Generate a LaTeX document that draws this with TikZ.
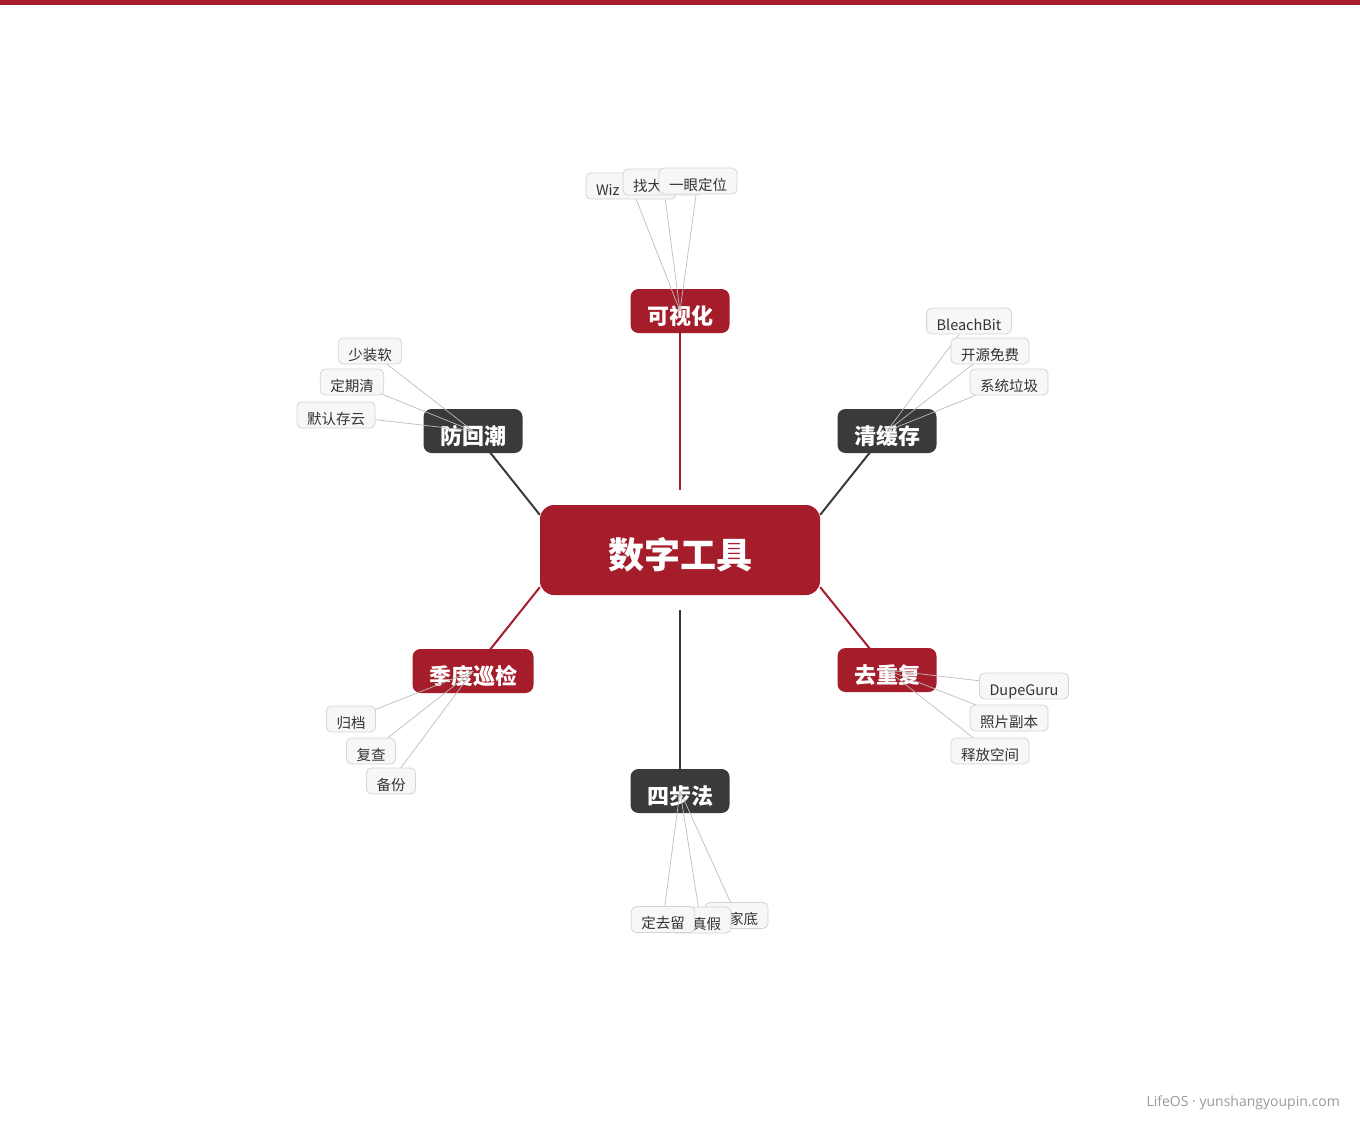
\documentclass[tikz,border=0pt]{standalone}
\usepackage{fontspec}
\setmainfont{Noto Sans CJK SC}
\newfontfamily\piedfont{Open Sans}
\usetikzlibrary{positioning}
\definecolor{rouge}{HTML}{A51C2B}
\definecolor{noir}{HTML}{3A3A3A}
\definecolor{fondfeuille}{HTML}{F7F7F7}
\definecolor{bordfeuille}{HTML}{D4D4D4}
\definecolor{lienfeuille}{HTML}{BDBDBD}
\definecolor{textefeuille}{HTML}{333333}
\pgfdeclarelayer{fond}
\pgfdeclarelayer{milieu}
\pgfdeclarelayer{liens}
\pgfsetlayers{fond,milieu,liens,main}
\tikzset{
  mmnode/.style = {align=center, text centered, text=white},
  mm_centre/.style = {mmnode, fill=rouge, rounded corners=14pt,
    minimum width=280pt, minimum height=90pt, text height=41pt, text depth=4pt,
    font=\fontsize{36}{36}\selectfont\bfseries},% noeud central
  mm_r/.style = {mmnode, fill=rouge, rounded corners=8pt, inner xsep=16.5pt,
    inner ysep=0pt, minimum height=44pt, text height=29.5pt, text depth=3pt,
    font=\fontsize{22}{22}\selectfont\bfseries},% branche rouge
  mm_n/.style = {mm_r, fill=noir},% branche noire
  feuille/.style = {draw=bordfeuille, fill=fondfeuille, rounded corners=5pt,
    line width=0.8pt, inner xsep=10pt, inner ysep=0pt, minimum height=26pt,
    text height=20.5pt, text depth=2pt,
    text=textefeuille, font=\fontsize{14.5}{15}\selectfont},
  lien_r/.style = {draw=rouge, line width=2pt},
  lien_n/.style = {draw=noir, line width=2pt},
  lien_f/.style = {draw=lienfeuille, line width=0.7pt}
}
\begin{document}
\begin{tikzpicture}[x=1pt, y=-1pt]
\useasboundingbox (0,0) rectangle (1360,1120);
\fill[rouge] (0,0) rectangle (1360,4.5);
% centre et branches
\begin{pgfonlayer}{milieu}
\node (root) [mm_centre] at (680,550) {数字工具};
\node (kshh) [mm_r] at (680,311) {可视化};
\node (qhc)  [mm_n] at (887,431) {清缓存};
\node (fhc)  [mm_n] at (473,431) {防回潮};
\node (jdxj) [mm_r] at (473,671) {季度巡检};
\node (qcf)  [mm_r] at (887,670) {去重复};
\node (sbf)  [mm_n] at (680,791) {四步法};
\end{pgfonlayer}
% feuilles
\node (v1) [feuille, text width=70pt, align=left] at (631,186) {Wiz};
\node (v2) [feuille, text width=60pt, align=left] at (663,182) {找大};
\node (v3) [feuille] at (698,181) {一眼定位};
\node (q1) [feuille] at (969,321) {BleachBit};
\node (q2) [feuille] at (990,351) {开源免费};
\node (q3) [feuille] at (1009,382) {系统垃圾};
\node (f1) [feuille] at (370,351) {少装软};
\node (f2) [feuille] at (352,382) {定期清};
\node (f3) [feuille] at (336,415) {默认存云};
\node (j1) [feuille] at (351,719) {归档};
\node (j2) [feuille] at (371,751) {复查};
\node (j3) [feuille] at (391,781) {备份};
\node (d1) [feuille] at (1024,686) {DupeGuru};
\node (d2) [feuille] at (1009,718) {照片副本};
\node (d3) [feuille] at (990,751) {释放空间};
\node (s1) [feuille, text width=43pt, align=right] at (736.5,915.5) {家底};
\node (s2) [feuille, text width=41pt, align=right] at (700.5,920) {真假};
\node (s3) [feuille] at (663,919.5) {定去留};
\node (credit) [anchor=base east, inner sep=0pt, text=black!40,
  font=\piedfont\fontsize{14}{14}\selectfont] at (1340,1106) {LifeOS · yunshangyoupin.com};
% liens principaux
\begin{pgfonlayer}{fond}
\draw[lien_r, shorten >=15pt] (kshh) -- (root);
\draw[lien_n, shorten >=15pt] (sbf) -- (root);
\draw[lien_n] (fhc.center) -- ([yshift=-10pt]root.north west);
\draw[lien_n] (qhc.center) -- ([yshift=-10pt]root.north east);
\draw[lien_r] (jdxj.center) -- ([yshift=8pt]root.south west);
\draw[lien_r] (qcf.center) -- ([yshift=8pt]root.south east);
\end{pgfonlayer}
% liens des feuilles
\begin{pgfonlayer}{liens}
\foreach \f in {v1,v2,v3} \draw[lien_f] (\f.center) -- (kshh.center);
\foreach \f in {q1,q2,q3} \draw[lien_f] (\f.center) -- (qhc.center);
\foreach \f in {f1,f2,f3} \draw[lien_f] (\f.center) -- (fhc.center);
\foreach \f in {j1,j2,j3} \draw[lien_f] (\f.center) -- (jdxj.center);
\foreach \f in {d1,d2,d3} \draw[lien_f] (\f.center) -- (qcf.center);
\foreach \f in {s1,s2,s3} \draw[lien_f] (\f.center) -- (sbf.center);
\end{pgfonlayer}
\end{tikzpicture}
\end{document}
